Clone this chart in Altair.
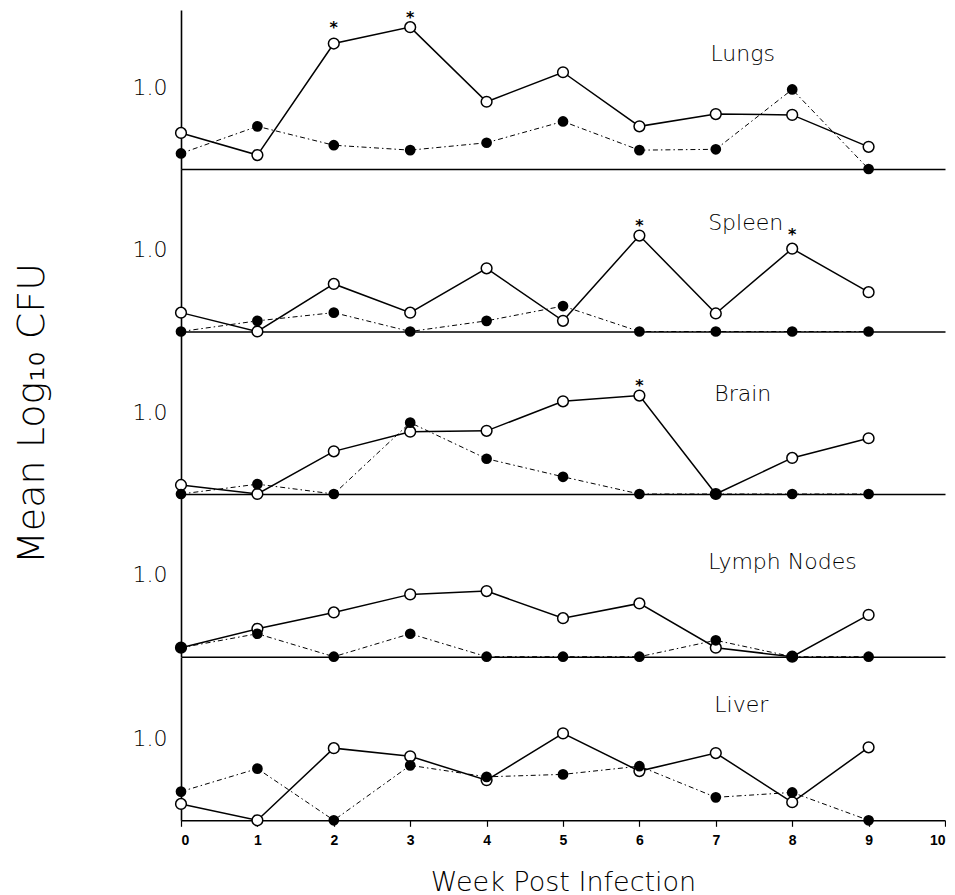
import altair as alt
import pandas as pd

# ---------------- data ----------------
weeks = [0, 1, 2, 3, 4, 5, 6, 7, 8, 9]
organs = ["Lungs", "Spleen", "Brain", "Lymph Nodes", "Liver"]

lungs_open = [0.44, 0.17, 1.53, 1.73, 0.82, 1.18, 0.52, 0.67, 0.66, 0.27]
lungs_filled = [0.19, 0.52, 0.29, 0.23, 0.32, 0.58, 0.23, 0.24, 0.97, 0.00]
spleen_open = [0.23, 0.00, 0.58, 0.23, 0.77, 0.13, 1.17, 0.22, 1.01, 0.48]
spleen_filled = [0.00, 0.13, 0.23, 0.00, 0.13, 0.31, 0.00, 0.00, 0.00, 0.00]
brain_open = [0.11, 0.00, 0.52, 0.76, 0.77, 1.13, 1.20, 0.00, 0.44, 0.68]
brain_filled = [0.00, 0.12, 0.00, 0.87, 0.43, 0.21, 0.00, 0.00, 0.00, 0.00]
lymph_open = [0.11, 0.34, 0.54, 0.76, 0.80, 0.47, 0.65, 0.11, 0.00, 0.51]
lymph_filled = [0.11, 0.28, 0.00, 0.28, 0.00, 0.00, 0.00, 0.20, 0.00, 0.00]
liver_open = [0.20, 0.00, 0.88, 0.78, 0.49, 1.06, 0.60, 0.82, 0.22, 0.89]
liver_filled = [0.35, 0.63, 0.00, 0.67, 0.53, 0.56, 0.66, 0.28, 0.34, 0.00]

open_series = [lungs_open, spleen_open, brain_open, lymph_open, liver_open]
filled_series = [lungs_filled, spleen_filled, brain_filled, lymph_filled, liver_filled]

# significance asterisks (organ, week, height of the star)
star_organs = ["Lungs", "Lungs", "Spleen", "Spleen", "Brain"]
star_weeks = [2, 3, 6, 8, 6]
star_values = [1.77, 1.89, 1.34, 1.22, 1.37]

# ---------------- layout / style constants ----------------
UNIT_PX = 82.0
PANEL_PX = {"Lungs": 159, "Spleen": 162.5, "Brain": 162, "Lymph Nodes": 162.7, "Liver": 163.3}
LABEL_AT = {"Lungs": (6.93, 1.32), "Spleen": (6.90, 1.24), "Brain": (6.98, 1.14),
            "Lymph Nodes": (6.90, 1.07), "Liver": (6.98, 1.32)}
FONT = "DejaVu Sans"
PLOT_W = 764


def panel(idx, organ):
    bottom = organ == organs[-1]
    h = PANEL_PX[organ]
    ytop = h / UNIT_PX
    rows = []
    for w, v in zip(weeks, open_series[idx]):
        rows.append({"week": w, "value": v, "series": "open"})
    for w, v in zip(weeks, filled_series[idx]):
        rows.append({"week": w, "value": v, "series": "filled"})
    df = pd.DataFrame(rows)

    xs = alt.Scale(domain=[0, 10], nice=False, zero=True)
    ys = alt.Scale(domain=[0, ytop], nice=False, zero=True)
    if bottom:
        xaxis = alt.Axis(values=list(range(11)), format="d", labelFont="Liberation Sans",
                         labelFontWeight="bold", labelFontSize=14, labelPadding=7,
                         tickSize=6, tickWidth=1.2, tickColor="black",
                         title="Week Post Infection", titleFont=FONT, titleFontSize=27,
                         titleFontWeight=200, titlePadding=22)
    else:
        xaxis = alt.Axis(labels=False, ticks=False, title=None)
    ytitle = "Mean Log\u2081\u2080  CFU" if organ == "Brain" else None
    yaxis = alt.Axis(values=[1.0], format=".1f", ticks=False, labelFont=FONT,
                     labelFontSize=22, labelFontWeight=200, labelPadding=14,
                     title=ytitle, titleFont=FONT, titleFontSize=38, titleFontWeight=200,
                     titlePadding=81)

    X = alt.X("week:Q", scale=xs, axis=xaxis)
    Y = alt.Y("value:Q", scale=ys, axis=yaxis)
    base = alt.Chart(df).encode(x=X, y=Y)

    open_line = base.transform_filter(alt.datum.series == "open").mark_line(
        color="black", strokeWidth=1.5)
    filled_line = base.transform_filter(alt.datum.series == "filled").mark_line(
        color="black", strokeWidth=1, strokeDash=[5, 3, 1.5, 3])
    open_pts = base.transform_filter(alt.datum.series == "open").mark_point(
        shape="circle", filled=True, fill="white", stroke="black", strokeWidth=1.5,
        size=115, opacity=1)
    filled_pts = base.transform_filter(alt.datum.series == "filled").mark_point(
        shape="circle", filled=True, color="black", size=115, opacity=1)

    lx, ly = LABEL_AT[organ]
    lab = alt.Chart(pd.DataFrame({"week": [lx], "value": [ly], "label": [organ]})).mark_text(
        align="left", baseline="alphabetic", font=FONT, fontSize=22, fontWeight=200,
        color="black").encode(x=X, y=Y, text="label:N")

    layers = [filled_line, open_line, open_pts, filled_pts, lab]

    sdf = pd.DataFrame({"organ": star_organs, "week": star_weeks, "value": star_values})
    sdf = sdf[sdf["organ"] == organ]
    if len(sdf):
        star = alt.Chart(sdf).mark_text(
            text="*", font=FONT, fontSize=16, fontWeight="bold", baseline="alphabetic",
            dy=9, color="black").encode(x=X, y=Y)
        layers.append(star)

    return alt.layer(*layers).properties(width=PLOT_W, height=h)


panels = [panel(i, o) for i, o in enumerate(organs)]

chart = alt.vconcat(*panels, spacing=0, bounds="flush").properties(
    padding={"left": 5, "top": 2, "right": 0, "bottom": 0}
).configure_view(stroke=None).configure_axis(
    grid=False, domainColor="black", domainWidth=1.6, labelColor="black", titleColor="black"
)

chart.save("out.html", embed_options={"renderer": "svg", "actions": False})
